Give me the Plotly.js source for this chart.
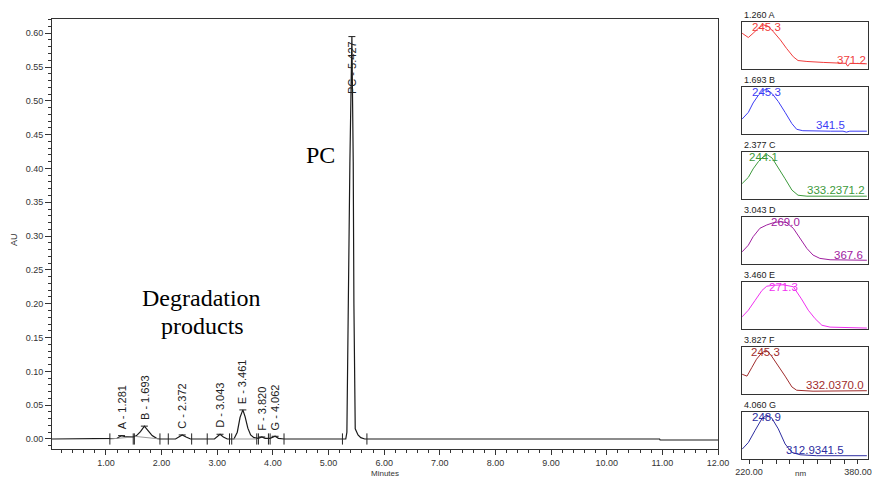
<!DOCTYPE html>
<html>
<head>
<meta charset="utf-8">
<script src="https://cdn.plot.ly/plotly-3.0.1.min.js"></script>
<style>html,body{margin:0;padding:0;background:#fff}#chart{width:872px;height:479px}</style>
</head>
<body>
<div id="chart"></div>
<script>
// ---------- main chromatogram data ----------
const timeMin = [0.03,1.07,1.20,1.28,1.36,1.49,1.55,1.62,1.69,1.76,1.83,1.91,1.97,2.25,2.31,2.37,2.44,2.52,2.95,3.00,3.05,3.11,3.18,3.30,3.36,3.41,3.46,3.50,3.55,3.60,3.66,3.74,3.80,3.86,3.95,4.04,4.10,4.20,5.31,5.33,5.354,5.384,5.42,5.444,5.456,5.47,5.48,5.53,5.58,5.65,10.95,10.96,12.0];
const absAU   = [0,0,0.001,0.005,0.003,0.003,0.005,0.011,0.019,0.012,0.005,0.001,0,0,0.003,0.006,0.003,0,0,0.004,0.007,0.003,0,0,0.010,0.032,0.043,0.033,0.016,0.006,0.002,0.001,0.003,0.001,0.001,0.004,0.001,0,0,0.010,0.20,0.41,0.595,0.41,0.20,0.05,0.015,0.006,0.002,0,0,-0.0015,-0.0015];

// integration baselines (grey)
const baseT  = [1.07,1.49,null,1.51,1.97,null,3.26,3.71];
const baseAU = [0,0.003,null,0.004,0,null,0,0];

// peak start / end marks
const markT = [1.07,1.49,1.51,1.97,2.12,2.54,2.82,3.22,3.26,3.71,3.74,3.92,3.95,4.20,5.25,5.69];

// peak labels
const peakNames = ["A - 1.281","B - 1.693","C - 2.372","D - 3.043","E - 3.461","F - 3.820","G - 4.062"];
const peakT     = [1.28,1.69,2.37,3.05,3.46,3.80,4.04];
const peakAU    = [0.005,0.019,0.006,0.007,0.043,0.003,0.004];
const pcName = "PC - 5.427", pcT = 5.42, pcAU = 0.595;

const yTickVals = [0,0.05,0.10,0.15,0.20,0.25,0.30,0.35,0.40,0.45,0.50,0.55,0.60];
const xTickVals = [1,2,3,4,5,6,7,8,9,10,11,12];

// ---------- UV spectra panels ----------
const specTitles = ["1.260 A","1.693 B","2.377 C","3.043 D","3.460 E","3.827 F","4.060 G"];
const specColors = ["#f03c3c","#3c3cf5","#3c9a3c","#a020a0","#f030f0","#a02c2c","#2c2ca0"];
const specNmA = [210,219,226,234,241,248,256,266,275,285,292,305,329,354,362,365,368,373,393];
const specA   = [0.76,0.67,0.76,0.87,0.94,0.91,0.79,0.62,0.44,0.26,0.18,0.16,0.14,0.12,0.12,0.06,0.12,0.12,0.11];
const specNmB = [210,219,226,234,241,246,254,263,273,283,290,299,340,358,363,368,393];
const specB   = [0.32,0.46,0.66,0.83,0.93,0.95,0.86,0.69,0.46,0.22,0.10,0.07,0.06,0.06,0.04,0.06,0.06];
const specNmC = [210,219,226,234,241,247,254,263,273,283,292,305,393];
const specC   = [0.33,0.46,0.64,0.80,0.90,0.94,0.87,0.67,0.43,0.19,0.08,0.06,0.06];
const specNmD = [210,219,226,236,246,256,266,275,285,295,305,314,324,339,393];
const specD   = [0.26,0.40,0.58,0.76,0.83,0.88,0.90,0.88,0.76,0.55,0.33,0.19,0.12,0.09,0.08];
const specNmE = [210,219,229,239,246,256,270,285,297,307,317,327,339,393];
const specE   = [0.26,0.40,0.61,0.82,0.91,0.93,0.94,0.90,0.64,0.40,0.22,0.08,0.04,0.02];
const specNmF = [210,217,224,231,239,246,253,263,273,283,290,314,393];
const specF   = [0.42,0.38,0.56,0.74,0.88,0.93,0.81,0.60,0.38,0.15,0.08,0.06,0.07];
const specNmG = [210,219,229,239,246,253,263,273,283,295,319,393];
const specG   = [0.21,0.35,0.61,0.86,0.93,0.88,0.64,0.32,0.14,0.09,0.07,0.07];
const specNm = [specNmA,specNmB,specNmC,specNmD,specNmE,specNmF,specNmG];
const specY  = [specA,specB,specC,specD,specE,specF,specG];

const topLabels = ["245.3","245.3","244.1","269.0","271.3","245.3","248.9"];
const topLabelNm = [245,245,241,273,270,244,246];
const lowLabels = ["371.2","341.5","333.2371.2","367.6","","332.0370.0","312.9341.5"];
const lowLabelNm = [370,340,347,366,0,346,317];
const nmTickVals = [220,240,260,280,300,320,340,360,380];
const nmTickText = ["220.00","","","","","","","","380.00"];

// ---------- layout helpers ----------
const W = 872, H = 479;
const px = x => x / W;
const py = y => 1 - y / H;
const axisCol = "#333";
const tickFont = {family: "Liberation Sans, Arial, sans-serif", size: 9, color: "#333"};
const labelFont = "Liberation Sans Narrow, Arial Narrow, Liberation Sans, Arial, sans-serif";

const traces = [
  {x: timeMin, y: absAU, type: "scatter", mode: "lines", line: {color: "#1a1a1a", width: 1.2}, xaxis: "x", yaxis: "y", hoverinfo: "skip"},
  {x: baseT, y: baseAU, type: "scatter", mode: "lines", line: {color: "#999", width: 1}, xaxis: "x", yaxis: "y", connectgaps: false, hoverinfo: "skip"},
  {x: markT, y: markT.map(() => 0), type: "scatter", mode: "markers", marker: {symbol: "line-ns-open", size: 8, color: "#222", line: {color: "#222", width: 1}}, xaxis: "x", yaxis: "y", hoverinfo: "skip"},
  {x: peakT.concat([pcT]), y: peakAU.concat([pcAU]), type: "scatter", mode: "markers", marker: {symbol: "line-ew-open", size: 5, color: "#222", line: {color: "#222", width: 1}}, xaxis: "x", yaxis: "y", hoverinfo: "skip"}
];

const layout = {
  width: W, height: H,
  margin: {l: 0, r: 0, t: 0, b: 0},
  paper_bgcolor: "#fff", plot_bgcolor: "#fff",
  showlegend: false,
  font: tickFont,
  xaxis: {
    domain: [px(52), px(718)], range: [0.03, 12.0], anchor: "y",
    tickvals: xTickVals, tickformat: ".2f", ticks: "outside", ticklen: 5, tickcolor: axisCol,
    minor: {dtick: 0.2, tick0: 0, ticks: "outside", ticklen: 3, tickcolor: axisCol},
    showline: true, mirror: true, linecolor: axisCol, linewidth: 1,
    showgrid: false, zeroline: false, tickfont: tickFont
  },
  yaxis: {
    domain: [py(449), py(19)], range: [-0.0148, 0.621], anchor: "x",
    tickvals: yTickVals, tickformat: ".2f", ticks: "outside", ticklen: 6, tickcolor: axisCol,
    minor: {dtick: 0.01, tick0: 0, ticks: "outside", ticklen: 3, tickcolor: axisCol},
    showline: true, mirror: true, linecolor: axisCol, linewidth: 1,
    showgrid: false, zeroline: false, tickfont: tickFont
  },
  annotations: [],
};

// peak labels
peakNames.forEach((n, i) => {
  layout.annotations.push({x: peakT[i], y: peakAU[i], xref: "x", yref: "y", text: n, showarrow: false,
    textangle: -90, xanchor: "center", yanchor: "bottom", yshift: 4,
    font: {family: labelFont, size: 11, color: "#222"}});
});
layout.annotations.push({x: pcT, y: pcAU, xref: "x", yref: "y", text: pcName, showarrow: false,
  textangle: -90, xanchor: "center", yanchor: "top", yshift: -2,
  font: {family: labelFont, size: 11, color: "#222"}});

// big serif texts
const serif = {family: "Liberation Serif, Times New Roman, serif", size: 24, color: "#000"};
layout.annotations.push({x: px(320), y: py(155), xref: "paper", yref: "paper", text: "PC", showarrow: false, font: serif, xanchor: "center", yanchor: "middle"});
layout.annotations.push({x: px(201), y: py(298), xref: "paper", yref: "paper", text: "Degradation", showarrow: false, font: serif, xanchor: "center", yanchor: "middle"});
layout.annotations.push({x: px(202), y: py(326), xref: "paper", yref: "paper", text: "products", showarrow: false, font: serif, xanchor: "center", yanchor: "middle"});

// axis titles
const titleFont = {family: "Liberation Sans, Arial, sans-serif", size: 8, color: "#333"};
layout.annotations.push({x: px(14), y: py(240), xref: "paper", yref: "paper", text: "AU", showarrow: false, textangle: -90, font: tickFont, xanchor: "center", yanchor: "middle"});
layout.annotations.push({x: px(385), y: py(479), xref: "paper", yref: "paper", text: "Minutes", showarrow: false, font: titleFont, xanchor: "center", yanchor: "bottom", borderpad: 0});
layout.annotations.push({x: px(800), y: py(479), xref: "paper", yref: "paper", text: "nm", showarrow: false, font: titleFont, xanchor: "center", yanchor: "bottom", borderpad: 0});

// spectra panels
specTitles.forEach((t, i) => {
  const k = i + 2;
  const top = 22 + 65 * i, bot = top + 47;
  const xa = "xaxis" + k, ya = "yaxis" + k;
  const last = i === specTitles.length - 1;
  layout[xa] = {
    domain: [px(742), px(868)], range: [209.7, 394.7], anchor: "y" + k,
    showline: true, mirror: true, linecolor: axisCol, linewidth: 1,
    showgrid: false, zeroline: false,
    tickvals: last ? nmTickVals : [], ticktext: last ? nmTickText : [],
    ticks: last ? "outside" : "", ticklen: 4, tickcolor: axisCol, showticklabels: last,
    tickfont: tickFont
  };
  layout[ya] = {
    domain: [py(bot), py(top)], range: [0, 1], anchor: "x" + k,
    showline: true, mirror: true, linecolor: axisCol, linewidth: 1,
    showgrid: false, zeroline: false, showticklabels: false, ticks: ""
  };
  traces.push({x: specNm[i], y: specY[i], type: "scatter", mode: "lines",
    line: {color: specColors[i], width: 1}, xaxis: "x" + k, yaxis: "y" + k, hoverinfo: "skip"});
  layout.annotations.push({x: px(742), y: py(top - 7), xref: "paper", yref: "paper", text: t, showarrow: false,
    xanchor: "left", yanchor: "middle", font: {family: "Liberation Sans, Arial, sans-serif", size: 9, color: "#222"}});
  layout.annotations.push({x: topLabelNm[i], y: 0.89, xref: "x" + k, yref: "y" + k, text: topLabels[i], showarrow: false,
    xanchor: "center", yanchor: "middle", font: {family: "Liberation Sans, Arial, sans-serif", size: 11.5, color: specColors[i]}});
  if (lowLabels[i]) {
    layout.annotations.push({x: lowLabelNm[i], y: 0.2, xref: "x" + k, yref: "y" + k, text: lowLabels[i], showarrow: false,
      xanchor: "center", yanchor: "middle", font: {family: "Liberation Sans, Arial, sans-serif", size: 11.5, color: specColors[i]}});
  }
});

Plotly.newPlot("chart", traces, layout, {displayModeBar: false, staticPlot: true});
</script>
</body>
</html>
